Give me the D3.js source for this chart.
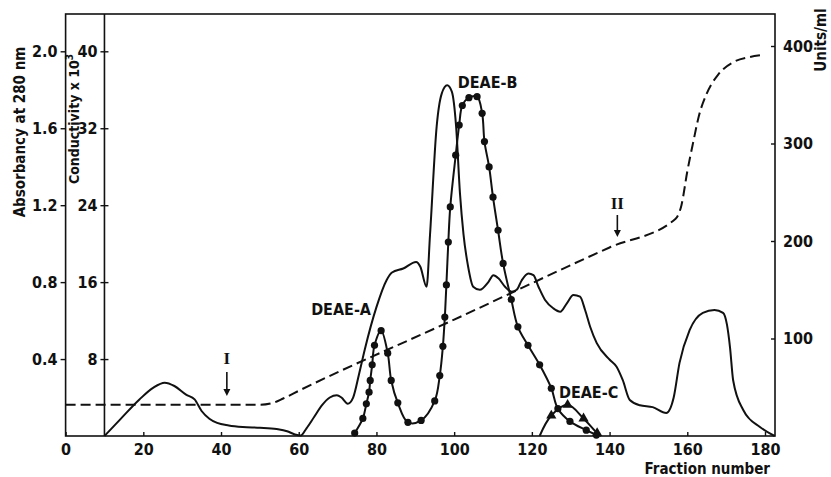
<!DOCTYPE html>
<html lang="en">
<head>
<meta charset="UTF-8" />
<title>DEAE chromatography profile</title>
<script src="https://cdn.jsdelivr.net/npm/d3@7"></script>
<style>
  body { margin: 0; background: #fff; }
  svg { display: block; }
  text { font-family: "DejaVu Sans Condensed", "Liberation Sans Narrow", sans-serif; font-weight: bold; fill: #111; }
  .roman { font-family: "Liberation Serif", "DejaVu Serif", serif; }
</style>
</head>
<body>
<svg id="chart" width="831" height="477" viewBox="0 0 831 477"></svg>
<script>
// tick values
const fractionTicks = [0, 20, 40, 60, 80, 100, 120, 140, 160, 180];
const absTicks = [0.4, 0.8, 1.2, 1.6, 2.0];
const condTicks = [8, 16, 24, 32, 40];
const unitTicks = [100, 200, 300, 400];

// absorbancy at 280 nm : [fraction, A]
const absorbance = [
  [10, 0], [14, 0.085], [19, 0.19], [22.5, 0.25], [25.5, 0.277], [28, 0.26], [31, 0.215],
  [33.2, 0.19], [35, 0.13], [37, 0.09], [39, 0.068], [42, 0.055], [45.6, 0.047], [50, 0.043],
  [54.3, 0.036], [57, 0.025], [59, 0.008], [60.5, 0.002], [62, 0.04], [64, 0.1], [66, 0.16],
  [68, 0.2], [69.8, 0.212], [71, 0.2], [72.6, 0.168], [74, 0.2], [75.5, 0.32], [77, 0.45],
  [80, 0.67], [82.6, 0.81], [84, 0.85], [86.9, 0.871], [90.2, 0.905], [91.3, 0.88],
  [92.9, 0.776], [93.8, 1.05], [95.5, 1.61], [96.8, 1.78], [98.2, 1.823], [99.4, 1.79],
  [100.5, 1.61], [101.5, 1.26], [102.4, 1.05], [103.6, 0.88], [104.9, 0.776], [106.6, 0.76],
  [108.8, 0.8], [110.1, 0.836], [111.4, 0.82], [113.1, 0.776], [114.8, 0.75], [116.1, 0.76],
  [117.4, 0.81], [119.1, 0.845], [120.4, 0.836], [121.7, 0.776], [123.4, 0.707],
  [125.5, 0.664], [127.3, 0.646], [129, 0.69], [130.7, 0.733], [132.4, 0.724], [133.7, 0.655],
  [135, 0.568], [136.7, 0.483], [140.1, 0.395], [141.8, 0.36], [143.4, 0.29], [145.2, 0.187],
  [147.8, 0.16], [151.1, 0.15], [154.6, 0.12], [156.5, 0.2], [158, 0.38], [160.6, 0.55],
  [164, 0.64], [167, 0.655], [169.2, 0.64], [170.2, 0.58], [171, 0.46], [171.8, 0.29],
  [174.4, 0.135], [178.7, 0.047], [182.5, 0]
];

// conductivity x 10^3 : [fraction, value]
const conductivity = [
  [0, 3.25], [50, 3.25], [53, 3.4], [56, 3.9], [60, 4.7], [100, 12.1], [140, 19.6],
  [157, 22.6], [158.5, 24], [160, 27.5], [161.5, 30.5], [163, 33.3], [165, 35.6],
  [168, 37.6], [172, 38.9], [176, 39.4], [179, 39.6]
];

// enzyme activity, DEAE-A and DEAE-B (units/ml) : [fraction, units]
const activityAB = [
  [74.4, 3], [76.5, 18], [77.4, 33], [78.1, 45], [78.4, 57], [78.9, 73], [79.5, 93],
  [81.2, 108], [82.9, 85], [83.8, 57], [85.5, 34], [88.1, 14], [91.5, 16], [95, 36],
  [96.3, 62], [97.1, 92], [97.6, 122], [98, 155], [98.5, 199], [99, 235], [100.4, 288],
  [101.3, 319], [102.1, 339], [103.8, 347], [105.9, 348], [107.2, 331], [107.8, 302],
  [109, 276], [110, 245], [111.3, 211], [112.6, 177], [114.7, 140], [116.4, 112], [119, 93],
  [122, 73], [125, 49], [126.7, 28], [129.8, 15], [134, 6], [136.6, 1]
];

// enzyme activity, DEAE-C (units/ml) : [fraction, units]
const activityC = [
  [122, 0], [125, 21], [129.2, 32], [133.3, 18], [136.8, 3], [137.8, 0]
];

const peakLabels = [
  {text: "DEAE-A", f: 70.9, v: 0.66},
  {text: "DEAE-B", f: 108.6, v: 1.84},
  {text: "DEAE-C", f: 134.6, v: 0.229}
];

const svg = d3.select("#chart");
const plotTop = 14, plotBottom = 436, plotRight = 775;
const x = d3.scaleLinear().domain([0, 180]).range([65.6, 765]);
const yA = d3.scaleLinear().domain([0, 2]).range([plotBottom, 51.3]);
const yC = d3.scaleLinear().domain([0, 40]).range([plotBottom, 51.3]);
const yU = d3.scaleLinear().domain([0, 400]).range([plotBottom, 46]);

function styleAxis(g, size) {
  g.select(".domain").remove();
  g.selectAll(".tick line").attr("stroke", "#111").attr("stroke-width", 1.4);
  g.selectAll(".tick text").attr("font-size", size);
}

// frame
svg.append("rect")
  .attr("x", x(0)).attr("y", plotTop)
  .attr("width", plotRight - x(0)).attr("height", plotBottom - plotTop)
  .attr("fill", "none").attr("stroke", "#111").attr("stroke-width", 1.6);
svg.append("line")
  .attr("x1", x(10)).attr("x2", x(10)).attr("y1", plotTop).attr("y2", plotBottom)
  .attr("stroke", "#111").attr("stroke-width", 1.6);

// axes
svg.append("g").attr("transform", `translate(${x(0)},0)`)
  .call(d3.axisLeft(yA).tickValues(absTicks).tickSize(5).tickPadding(3).tickFormat(d3.format(".1f")))
  .call(g => styleAxis(g, 16));

svg.append("g").attr("transform", `translate(${x(10)},0)`)
  .call(d3.axisLeft(yC).tickValues(condTicks).tickSize(4).tickPadding(3))
  .call(g => styleAxis(g, 16))
  .call(g => g.selectAll(".tick").append("line").attr("x2", 4).attr("stroke", "#111").attr("stroke-width", 1.4));

svg.append("g").attr("transform", `translate(${plotRight},0)`)
  .call(d3.axisRight(yU).tickValues(unitTicks).tickSizeInner(-4).tickSizeOuter(0).tickPadding(8))
  .call(g => styleAxis(g, 16));

svg.append("g").attr("transform", `translate(0,${plotBottom})`)
  .call(d3.axisBottom(x).tickValues(fractionTicks).tickSizeInner(-4).tickSizeOuter(0).tickPadding(8))
  .call(g => styleAxis(g, 16));

// axis titles
svg.append("text")
  .attr("transform", "translate(25,132) rotate(-90)")
  .attr("text-anchor", "middle").attr("font-size", 15)
  .text("Absorbancy at 280 nm");

const condTitle = svg.append("text")
  .attr("transform", "translate(79,119) rotate(-90)")
  .attr("text-anchor", "middle").attr("font-size", 14);
condTitle.append("tspan").text("Conductivity x 10");
condTitle.append("tspan").attr("font-size", 10).attr("dy", -6).text("3");

svg.append("text")
  .attr("transform", "translate(826,40) rotate(-90)")
  .attr("text-anchor", "middle").attr("font-size", 15)
  .text("Units/ml");

svg.append("text")
  .attr("x", 770).attr("y", 474)
  .attr("text-anchor", "end").attr("font-size", 15)
  .text("Fraction number");

// conductivity gradient (dashed)
svg.append("path")
  .datum(conductivity)
  .attr("d", d3.line().x(d => x(d[0])).y(d => yC(d[1])).curve(d3.curveMonotoneX))
  .attr("fill", "none").attr("stroke", "#111").attr("stroke-width", 2)
  .attr("stroke-dasharray", "10,5");

// absorbance (solid)
svg.append("path")
  .datum(absorbance)
  .attr("d", d3.line().x(d => x(d[0])).y(d => yA(d[1])).curve(d3.curveMonotoneX))
  .attr("fill", "none").attr("stroke", "#111").attr("stroke-width", 2);

// activity curves
const activityLine = d3.line().x(d => x(d[0])).y(d => yU(d[1])).curve(d3.curveCatmullRom.alpha(0.5));
svg.append("path").datum(activityAB).attr("d", activityLine)
  .attr("fill", "none").attr("stroke", "#111").attr("stroke-width", 2);
svg.selectAll("circle.pt").data(activityAB).enter().append("circle")
  .attr("class", "pt")
  .attr("cx", d => x(d[0])).attr("cy", d => yU(d[1])).attr("r", 3.6)
  .attr("fill", "#111");

svg.append("path").datum(activityC).attr("d", activityLine)
  .attr("fill", "none").attr("stroke", "#111").attr("stroke-width", 2);
svg.selectAll("path.tri").data(activityC.filter(d => d[1] > 0)).enter().append("path")
  .attr("class", "tri")
  .attr("transform", d => `translate(${x(d[0])},${yU(d[1])})`)
  .attr("d", d3.symbol().type(d3.symbolTriangle).size(45))
  .attr("fill", "#111");

// peak labels
peakLabels.forEach(l => {
  svg.append("text")
    .attr("x", x(l.f)).attr("y", yA(l.v))
    .attr("text-anchor", "middle").attr("dy", "0.35em").attr("font-size", 16)
    .text(l.text);
});

// gradient start arrows
function arrow(f, label, yText, y1, y2) {
  svg.append("text").attr("class", "roman")
    .attr("x", x(f)).attr("y", yText)
    .attr("text-anchor", "middle").attr("font-size", 17)
    .text(label);
  svg.append("line")
    .attr("x1", x(f)).attr("x2", x(f)).attr("y1", y1).attr("y2", y2 - 5)
    .attr("stroke", "#111").attr("stroke-width", 1.6);
  svg.append("path")
    .attr("d", `M${x(f) - 3.5},${y2 - 7}L${x(f) + 3.5},${y2 - 7}L${x(f)},${y2}Z`)
    .attr("fill", "#111");
}
arrow(41.5, "I", 364, 372, 396);
arrow(142, "II", 209, 215, 237);
</script>
</body>
</html>
